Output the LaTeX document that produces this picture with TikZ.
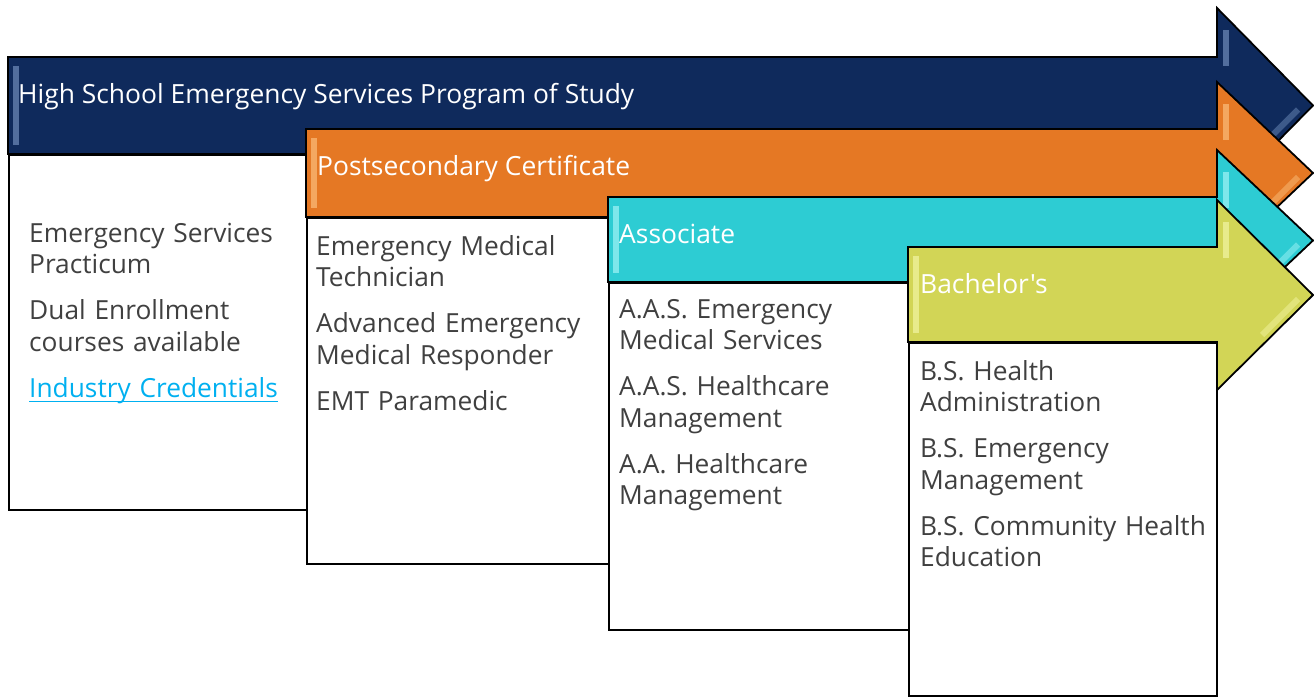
\documentclass[tikz,border=0pt]{standalone}
\usepackage{fontspec}
\setmainfont{Open Sans}[Ligatures=TeXOff]
\definecolor{navyc}{HTML}{0F2A5C}
\definecolor{navyl}{HTML}{7F9CCB}
\definecolor{orangec}{HTML}{E57824}
\definecolor{orangel}{HTML}{FFC98A}
\definecolor{cyanc}{HTML}{2DCCD3}
\definecolor{cyanl}{HTML}{B5FAFC}
\definecolor{yellowc}{HTML}{D2D556}
\definecolor{yellowl}{HTML}{F8FAB0}
\definecolor{textgray}{HTML}{404040}
\definecolor{linkblue}{HTML}{00B0F0}
\newcommand\mylink[1]{\setbox0\hbox{#1}\rlap{\rule[-5pt]{\wd0}{1.4pt}}\box0}
\tikzset{
  arrowline/.style={draw=black, line width=1.8pt, line join=miter},
  itembox/.style={draw=black, fill=white, line width=1.8pt},
  headtext/.style={text=white, font=\fontsize{26.4}{30}\selectfont, anchor=base west, inner sep=0pt},
  items/.style={text=textgray, font=\fontsize{26.3}{31.5}\selectfont, anchor=base west, inner sep=0pt, align=left, text width=290pt},
  bevel/.style={line width=6pt, opacity=0.6, line cap=butt},
}
% #1 left x, #2 body top, #3 body bottom, #4 head top, #5 head bottom, #6 tip y, #7 colour, #8 light colour
\newcommand\stagearrow[8]{%
  \fill[#7] (#1,#2) -- (1217,#2) -- (1217,#4) -- (1313,#6) -- (1217,#5) -- (1217,#3) -- (#1,#3) -- cycle;
  \begin{scope}
    \clip (#1,#2) -- (1217,#2) -- (1217,#4) -- (1313,#6) -- (1217,#5) -- (1217,#3) -- (#1,#3) -- cycle;
    \draw[bevel, #8] (#1+8,#2+9) -- (#1+8,#3-9);
    \draw[bevel, #8] (1226,#4+22) -- (1226,#4+58);
    \draw[bevel, #8!70!#7] (1298,#6+4) -- (1262,#6+40);
  \end{scope}
  \draw[arrowline] (#1,#2) -- (1217,#2) -- (1217,#4) -- (1313,#6) -- (1217,#5) -- (1217,#3) -- (#1,#3) -- cycle;
}
\begin{document}
\begin{tikzpicture}[x=1pt,y=-1pt]
\useasboundingbox (0,0) rectangle (1314,696);
\fill[white] (0,0) rectangle (1314,696);

% boxes
\node[itembox, minimum width=298pt, minimum height=355pt, anchor=north west, inner sep=0pt] (box1) at (8,154) {};
\node[itembox, minimum width=302pt, minimum height=346pt, anchor=north west, inner sep=0pt] (box2) at (306,217) {};
\node[itembox, minimum width=300pt, minimum height=347pt, anchor=north west, inner sep=0pt] (box3) at (608,282) {};
\node[itembox, minimum width=308pt, minimum height=353pt, anchor=north west, inner sep=0pt] (box4) at (908,342) {};

% arrows
\stagearrow{8}{57}{154}{8}{203}{105.5}{navyc}{navyl}
\stagearrow{306}{129}{217}{82}{264}{173}{orangec}{orangel}
\stagearrow{608}{197}{282}{150}{331}{240.5}{cyanc}{cyanl}
\stagearrow{908}{247}{342}{200}{390}{295}{yellowc}{yellowl}

% headers
\node[headtext] (h1) at (18,103) {High School Emergency Services Program of Study};
\node[headtext] (h2) at (317,175) {Postsecondary Certificate};
\node[headtext] (h3) at (619,243) {Associate};
\node[headtext] (h4) at (920,293) {Bachelor's};

% items
\node[items] (t1) at (29,242) {Emergency Services\\Practicum\\[14.5pt]Dual Enrollment\\courses available\\[14.5pt]\textcolor{linkblue}{\mylink{Industry Credentials}}};
\node[items] (t2) at (316,255) {Emergency Medical\\Technician\\[14.5pt]Advanced Emergency\\Medical Responder\\[14.5pt]EMT Paramedic};
\node[items] (t3) at (619,318) {A.A.S. Emergency\\Medical Services\\[14.5pt]A.A.S. Healthcare\\Management\\[14.5pt]A.A. Healthcare\\Management};
\node[items] (t4) at (920,380) {B.S. Health\\Administration\\[14.5pt]B.S. Emergency\\Management\\[14.5pt]B.S. Community Health\\Education};
\end{tikzpicture}
\end{document}
